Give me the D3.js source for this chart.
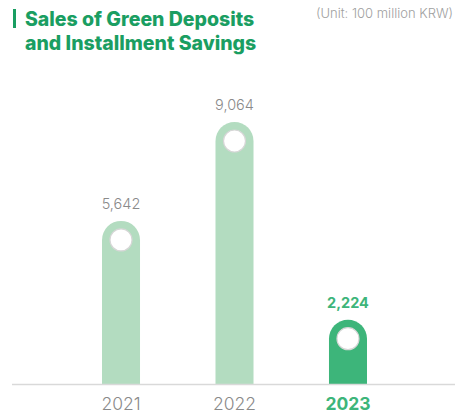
<!DOCTYPE html>
<html>
<head>
<meta charset="utf-8">
<script src="https://cdn.jsdelivr.net/npm/d3@7"></script>
<style>
  body { margin: 0; background: #fff; }
  svg { font-family: Inter, "Noto Sans", sans-serif; }
</style>
</head>
<body>
<div id="chart"></div>
<script>
const years = ["2021", "2022", "2023"];
const values = [5642, 9064, 2224];
const highlight = "2023";

const width = 455, height = 413;
const baseY = 384;

const svg = d3.select("#chart")
  .append("svg")
    .attr("width", width)
    .attr("height", height);

// Title
const title = svg.append("g").attr("fill", "#1a9e62")
  .style("font-weight", "800")
  .style("font-size", "19.5px");
title.append("rect").attr("x", 13).attr("y", 9).attr("width", 3).attr("height", 19);
title.append("text").attr("x", 25).attr("y", 26).text("Sales of Green Deposits");
title.append("text").attr("x", 25).attr("y", 50).text("and Installment Savings");

svg.append("text")
  .attr("x", 453).attr("y", 18)
  .attr("text-anchor", "end")
  .attr("fill", "#a0a0a0")
  .style("font-weight", "300")
  .style("font-size", "13px")
  .text("(Unit: 100 million KRW)");

// Scales
const x = d3.scaleBand()
  .domain(years)
  .range([102, 367])
  .paddingInner(0.665)
  .paddingOuter(0);

const y = d3.scaleLinear()
  .domain([0, 9064])
  .range([baseY, 122]);

const data = years.map((yr, i) => ({year: yr, value: values[i]}));
const bw = x.bandwidth();
const r = bw / 2;

const color = d => d.year === highlight ? "#3db57a" : "#b3dcc0";

// Bars with rounded cap
svg.append("g")
  .selectAll("path.bar")
  .data(data)
  .join("path")
    .attr("class", "bar")
    .attr("d", d => {
      const x0 = x(d.year), x1 = x0 + bw, top = y(d.value);
      return `M${x0},${baseY} L${x0},${top + r} A${r},${r} 0 0 1 ${x1},${top + r} L${x1},${baseY} Z`;
    })
    .attr("fill", color);

// White circles
svg.append("g")
  .selectAll("circle")
  .data(data)
  .join("circle")
    .attr("cx", d => x(d.year) + r)
    .attr("cy", d => y(d.value) + r)
    .attr("r", 11)
    .attr("fill", "#fff")
    .attr("stroke", "#d6d6d6")
    .attr("stroke-width", 1.2);

// Baseline
svg.append("line")
  .attr("x1", 12).attr("x2", 455)
  .attr("y1", baseY + 0.5).attr("y2", baseY + 0.5)
  .attr("stroke", "#d9d9d9")
  .attr("stroke-width", 1.5);

// Value labels
svg.append("g")
  .selectAll("text")
  .data(data)
  .join("text")
    .attr("x", d => x(d.year) + r)
    .attr("y", d => y(d.value) - 12)
    .attr("text-anchor", "middle")
    .attr("fill", d => d.year === highlight ? "#3db57a" : "#8a8a8a")
    .style("font-weight", d => d.year === highlight ? "700" : "300")
    .style("font-size", "14.5px")
    .text(d => d3.format(",")(d.value));

// Year labels
svg.append("g")
  .selectAll("text")
  .data(data)
  .join("text")
    .attr("x", d => x(d.year) + r)
    .attr("y", 410)
    .attr("text-anchor", "middle")
    .attr("fill", d => d.year === highlight ? "#3db57a" : "#8a8a8a")
    .style("font-weight", d => d.year === highlight ? "700" : "300")
    .style("font-size", "17.5px")
    .text(d => d.year);
</script>
</body>
</html>
